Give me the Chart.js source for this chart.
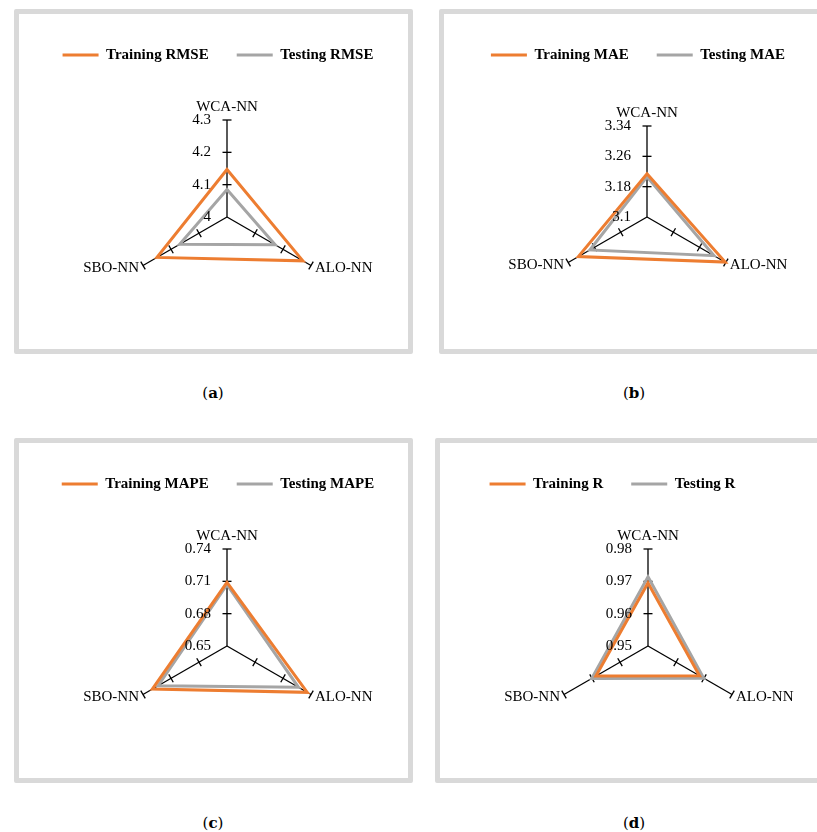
<!DOCTYPE html>
<html>
<head>
<meta charset="utf-8">
<script src="https://cdn.jsdelivr.net/npm/chart.js@4.4.1/dist/chart.umd.min.js"></script>
<style>
  html, body { margin: 0; padding: 0; background: #fff; }
  body { width: 817px; height: 832px; position: relative; overflow: hidden; }
  .panel { position: absolute; width: 389px; height: 335px; border: 5px solid #d9d9d9; border-radius: 2px; background: #fff; }
  .panel canvas { display: block; }
  .cap { position: absolute; transform: translate(-50%, -50%); font: 15px "DejaVu Serif", serif; color: #000; white-space: nowrap; }
</style>
</head>
<body>
<div class="panel" style="left:14px;top:9px"><canvas id="chartA" width="389" height="335"></canvas></div>
<div class="panel" style="left:439px;top:9px"><canvas id="chartB" width="389" height="335"></canvas></div>
<div class="panel" style="left:14px;top:438px"><canvas id="chartC" width="389" height="335"></canvas></div>
<div class="panel" style="left:435px;top:438px"><canvas id="chartD" width="389" height="335"></canvas></div>
<div class="cap" style="left:213px;top:393px">(<b>a</b>)</div>
<div class="cap" style="left:634px;top:393px">(<b>b</b>)</div>
<div class="cap" style="left:213px;top:823px">(<b>c</b>)</div>
<div class="cap" style="left:634px;top:823px">(<b>d</b>)</div>
<script>
const models = ['WCA-NN', 'ALO-NN', 'SBO-NN'];

const rmseTicks = [4, 4.1, 4.2, 4.3];
const trainRmse = [4.147, 4.271, 4.25];
const testRmse = [4.085, 4.172, 4.169];

const maeTicks = [3.1, 3.18, 3.26, 3.34];
const trainMae = [3.214, 3.338, 3.309];
const testMae = [3.206, 3.304, 3.274];

const mapeTicks = [0.65, 0.68, 0.71, 0.74];
const trainMape = [0.709, 0.736, 0.730];
const testMape = [0.707, 0.7266, 0.7238];

const rTicks = [0.95, 0.96, 0.97, 0.98];
const trainR = [0.9695, 0.9684, 0.9686];
const testR = [0.9714, 0.9699, 0.9701];

const ORANGE = '#ED7D31';
const GRAY = '#A5A5A5';
const FONT = 'Liberation Serif';

// ticks, axis caps and labels drawn on the radial scale
const radarAxes = {
  id: 'radarAxes',
  beforeDatasetsDraw(chart, args, opts) {
    const scale = chart.scales.r;
    const ctx = chart.ctx;
    ctx.save();
    ctx.strokeStyle = '#000';
    ctx.lineWidth = 1.3;
    chart.data.labels.forEach((lbl, i) => {
      const a = scale.getIndexAngle(i) - Math.PI / 2;
      const nx = -Math.sin(a), ny = Math.cos(a);
      opts.ticks.slice(1).forEach(v => {
        const p = scale.getPointPositionForValue(i, v);
        ctx.beginPath();
        ctx.moveTo(p.x - nx * 4.5, p.y - ny * 4.5);
        ctx.lineTo(p.x + nx * 4.5, p.y + ny * 4.5);
        ctx.stroke();
      });
    });
    ctx.restore();
  },
  afterDraw(chart, args, opts) {
    const scale = chart.scales.r;
    const ctx = chart.ctx;
    ctx.save();
    ctx.font = '15px "' + FONT + '"';
    ctx.fillStyle = '#000';
    ctx.textAlign = 'right';
    ctx.textBaseline = 'middle';
    opts.ticks.forEach(v => {
      const p = scale.getPointPositionForValue(0, v);
      ctx.fillText(String(v), p.x - 16, p.y);
    });
    chart.data.labels.forEach((lbl, i) => {
      const p = scale.getPointPositionForValue(i, scale.max);
      if (i === 0) {
        ctx.textAlign = 'center';
        ctx.textBaseline = 'alphabetic';
        ctx.fillText(lbl, p.x, p.y - 9);
      } else {
        ctx.textBaseline = 'middle';
        ctx.textAlign = p.x > scale.xCenter ? 'left' : 'right';
        ctx.fillText(lbl, p.x + (p.x > scale.xCenter ? 4 : -4), p.y + 3);
      }
    });
    ctx.restore();
  }
};

function makeRadar(id, name, ticks, train, test, g) {
  const W = 389, H = 335, fs = 15, lp = 28;
  const pt = g.legendY - lp - fs / 2;
  const legendH = fs + lp + 10;
  const top = g.cy - g.r;
  const spacer = top - pt - legendH;
  const pb = H - top - (2 * g.r + 0.5);
  const diff = 2 * g.legendX - W;
  const sw = 2 * (g.cx - g.legendX);

  return new Chart(document.getElementById(id), {
    type: 'radar',
    data: {
      labels: models,
      datasets: [
        { label: 'Training ' + name, data: train, borderColor: ORANGE, backgroundColor: ORANGE },
        { label: 'Testing ' + name, data: test, borderColor: GRAY, backgroundColor: GRAY },
      ],
    },
    options: {
      responsive: false,
      animation: false,
      layout: { padding: { top: pt, bottom: pb, left: Math.max(0, diff), right: Math.max(0, -diff) } },
      elements: {
        line: { borderWidth: 3, tension: 0, fill: false, borderJoinStyle: 'miter' },
        point: { radius: 0, hoverRadius: 0, borderWidth: 3 },
      },
      scales: {
        r: {
          min: ticks[0],
          max: ticks[ticks.length - 1],
          ticks: { display: false, stepSize: ticks[1] - ticks[0] },
          grid: { display: false },
          angleLines: { display: true, color: '#000', lineWidth: 1.3 },
          pointLabels: { display: false },
        },
      },
      plugins: {
        legend: {
          position: 'top',
          weight: 3000,
          labels: {
            usePointStyle: true,
            pointStyle: 'line',
            pointStyleWidth: 36,
            padding: lp,
            color: '#000',
            font: { family: FONT, size: fs, weight: 'bold' },
          },
        },
        title: {
          display: true, text: '', position: 'top', weight: 500,
          font: { size: 1, lineHeight: 1 }, padding: { top: spacer - 1, bottom: 0 },
        },
        subtitle: {
          display: true, text: '', position: 'left', fullSize: false, weight: 0,
          font: { size: 1, lineHeight: 1 }, padding: { top: sw - 1, bottom: 0 },
        },
        tooltip: { enabled: false },
        radarAxes: { ticks: ticks },
      },
    },
    plugins: [radarAxes],
  });
}

makeRadar('chartA', 'RMSE', rmseTicks, trainRmse, testRmse, { legendX: 199, legendY: 41, cx: 208.3, cy: 203.5, r: 97 });
makeRadar('chartB', 'MAE', maeTicks, trainMae, testMae, { legendX: 194, legendY: 41, cx: 203.3, cy: 203.5, r: 91 });
makeRadar('chartC', 'MAPE', mapeTicks, trainMape, testMape, { legendX: 199, legendY: 41, cx: 208.3, cy: 203.7, r: 97 });
makeRadar('chartD', 'R', rTicks, trainR, testR, { legendX: 172.5, legendY: 41, cx: 208.3, cy: 203.7, r: 97 });
</script>
</body>
</html>
